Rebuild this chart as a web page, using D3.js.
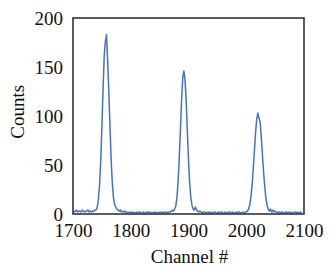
<!DOCTYPE html>
<html>
<head>
<meta charset="utf-8">
<script src="https://cdn.jsdelivr.net/npm/d3@7"></script>
<style>
  body { margin: 0; background: #fff; }
  svg text { font-family: "Liberation Serif", "Times New Roman", serif; fill: #111; }
</style>
</head>
<body>
<div id="chart"></div>
<script>
// spectrum sampled every 2 channels starting at 1700
const startChannel = 1700;
const channelStep = 2;
const counts = [
  // 1700 - 1738
  3, 2, 3, 4, 2, 3, 3, 2, 4, 3, 2, 3, 3, 4, 2, 3, 2, 3, 3, 4,
  // 1740 - 1798 (peak 1)
  4, 7, 15, 30, 54, 88, 126, 161, 176, 183,
  156, 125, 90, 56, 32, 17, 10, 7, 5, 4,
  3, 4, 2, 3, 2, 3, 1, 2, 2, 1,
  // 1800 - 1870
  2, 1, 2, 1, 1, 2, 1, 2, 2, 1, 1, 2, 1, 1, 2, 2, 1, 2,
  1, 1, 2, 1, 2, 1, 1, 2, 2, 1, 2, 1, 2, 2, 1, 2, 2, 3,
  // 1872 - 1920 (peak 2)
  4, 3, 5, 8, 17, 33, 57, 86, 116, 139,
  146, 137, 115, 84, 55, 32, 17, 9, 5, 4,
  7, 4, 3, 2, 3,
  // 1922 - 2000
  2, 1, 2, 2, 1, 1, 2, 1, 2, 1, 1, 2, 2, 1, 1, 2, 1, 2, 2, 1,
  1, 2, 1, 1, 2, 2, 1, 2, 1, 1, 2, 1, 2, 2, 1, 1, 2, 1, 2, 2,
  // 2002 - 2050 (peak 3)
  3, 5, 9, 17, 29, 45, 63, 82, 96, 103,
  98, 94, 79, 61, 43, 28, 16, 9, 5, 3,
  5, 2, 4, 2, 3,
  // 2052 - 2096
  2, 1, 2, 2, 1, 2, 1, 1, 2, 2, 1, 2, 1, 2, 1, 1, 2, 2, 1, 2, 1, 2, 1
];

const xTicks = [1700, 1800, 1900, 2000, 2100];
const yTicks = [0, 50, 100, 150, 200];

const svgWidth = 334;
const svgHeight = 276;
const margin = { top: 18, right: 30, bottom: 62, left: 73 };
const width = svgWidth - margin.left - margin.right;
const height = svgHeight - margin.top - margin.bottom;
const serif = '"Liberation Serif", "Times New Roman", serif';

const data = counts.map((c, i) => ({ ch: startChannel + i * channelStep, c }));

const svg = d3.select('#chart')
    .append("svg")
    .attr("width", svgWidth)
    .attr("height", svgHeight)
    .append("g")
    .attr("transform", `translate(${margin.left},${margin.top})`);

const xScale = d3.scaleLinear().domain([1700, 2100]).range([0, width]);
const yScale = d3.scaleLinear().domain([0, 200]).range([height, 0]);

// spectrum line
svg.append("path")
    .datum(data)
    .attr("fill", "none")
    .attr("stroke", "#4472c4")
    .attr("stroke-width", 1.5)
    .attr("stroke-linejoin", "round")
    .attr("d", d3.line().x(d => xScale(d.ch)).y(d => yScale(d.c)));

// frame
svg.append("rect")
    .attr("width", width)
    .attr("height", height)
    .attr("fill", "none")
    .attr("stroke", "#333")
    .attr("stroke-width", 1.6);

// axes, labels only
const xAxis = svg.append("g")
    .attr("transform", `translate(0,${height})`)
    .call(d3.axisBottom(xScale).tickValues(xTicks).tickFormat(d3.format("d"))
        .tickSize(0).tickPadding(10));
const yAxis = svg.append("g")
    .call(d3.axisLeft(yScale).tickValues(yTicks).tickFormat(d3.format("d"))
        .tickSize(0).tickPadding(10));

[xAxis, yAxis].forEach(g => {
    g.select(".domain").remove();
    g.attr("font-family", serif).attr("font-size", 19);
    g.selectAll("text")
        .style("font-family", serif)
        .style("font-size", "19px")
        .attr("fill", "#111");
});

// axis titles
svg.append("text")
    .attr("x", width / 2 + 1)
    .attr("y", height + 48.5)
    .attr("text-anchor", "middle")
    .style("font-size", "19px")
    .text("Channel #");

svg.append("text")
    .attr("transform", "rotate(-90)")
    .attr("x", -(111.7 - margin.top))
    .attr("y", -49)
    .attr("text-anchor", "middle")
    .style("font-size", "19px")
    .text("Counts");
</script>
</body>
</html>
